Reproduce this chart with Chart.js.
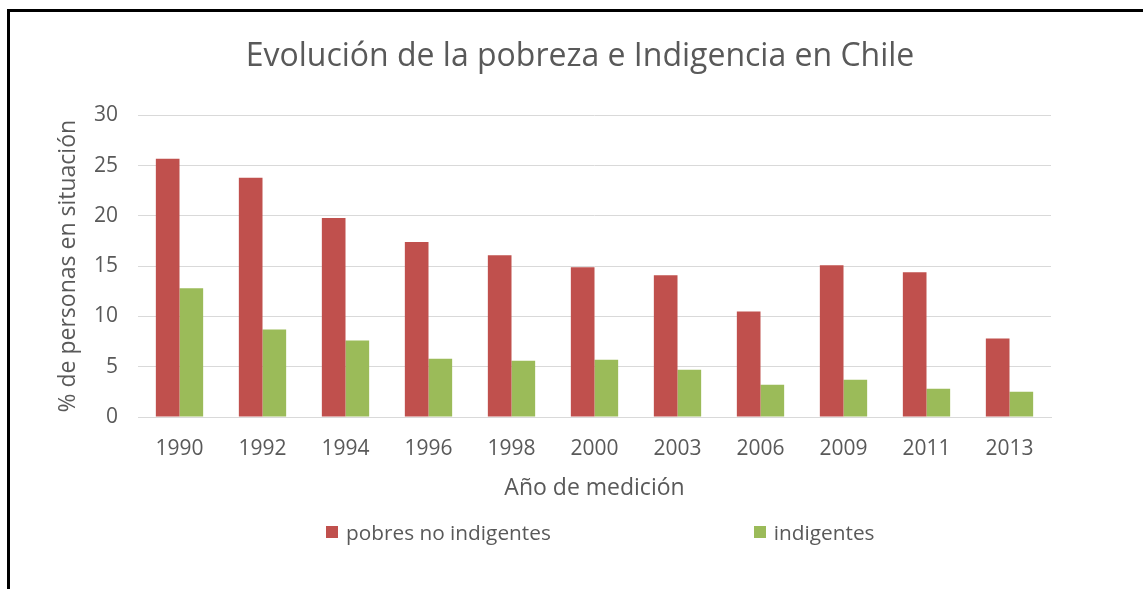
<!DOCTYPE html>
<html lang="es">
<head>
<meta charset="utf-8">
<title>Evolución de la pobreza e Indigencia en Chile</title>
<script src="https://cdn.jsdelivr.net/npm/chart.js@4.4.1/dist/chart.umd.min.js"></script>
<style>
    html, body { margin: 0; padding: 0; background: #fff; }
    #wrap { position: relative; width: 1143px; height: 589px; overflow: hidden; }
    #marco {
        position: absolute; left: 7px; top: 9px; right: -10px; bottom: -10px;
        border-top: 3px solid #000; border-left: 3px solid #000; pointer-events: none;
    }
    #leyenda {
        position: absolute; left: 326px; top: 520px;
        display: flex; align-items: center; gap: 203px;
        font-family: 'Open Sans', sans-serif; font-size: 20.8px; line-height: 24px; color: #595959;
    }
    .item { display: flex; align-items: center; gap: 8px; white-space: nowrap; }
    .caja { width: 12px; height: 12px; display: inline-block; }
</style>
</head>
<body>
<div id="wrap">
    <canvas id="grafico" width="1143" height="589"></canvas>
    <div id="leyenda"></div>
    <div id="marco"></div>
</div>
<script>
// Datos (% de personas)
const anios = ['1990', '1992', '1994', '1996', '1998', '2000', '2003', '2006', '2009', '2011', '2013'];
const pobresNoIndigentes = [25.7, 23.8, 19.8, 17.4, 16.1, 14.9, 14.1, 10.5, 15.1, 14.4, 7.8];
const indigentes = [12.8, 8.7, 7.6, 5.8, 5.6, 5.7, 4.7, 3.2, 3.7, 2.8, 2.5];
const nombresSeries = ['pobres no indigentes', 'indigentes'];
const coloresSeries = ['#C0504D', '#9BBB59'];

const textoGris = '#595959';
const fuente = "'Open Sans', sans-serif";

const chart = new Chart(document.getElementById('grafico'), {
    type: 'bar',
    data: {
        labels: anios,
        datasets: [
            { label: nombresSeries[0], data: pobresNoIndigentes, backgroundColor: coloresSeries[0] },
            { label: nombresSeries[1], data: indigentes, backgroundColor: coloresSeries[1] }
        ]
    },
    options: {
        responsive: false,
        animation: false,
        layout: { padding: { left: 54, right: 37, top: 0, bottom: 87 } },
        datasets: {
            bar: { barPercentage: 1, categoryPercentage: 0.57 }
        },
        plugins: {
            legend: { display: false },
            tooltip: { enabled: false },
            title: {
                display: true,
                text: 'Evolución de la pobreza e Indigencia en Chile',
                color: textoGris,
                font: { family: fuente, size: 32, weight: 'normal' },
                padding: { top: 38, bottom: 39 }
            }
        },
        scales: {
            x: {
                grid: { display: false, drawTicks: false },
                border: { display: true, color: '#D9D9D9' },
                ticks: { color: textoGris, font: { family: fuente, size: 21 }, padding: 19 },
                title: {
                    display: true,
                    text: 'Año de medición',
                    color: textoGris,
                    font: { family: fuente, size: 23 },
                    padding: { top: 0, bottom: 0 }
                },
                // alto fijo del eje para dejar el área de trazado donde está en el original
                afterFit: (scale) => { scale.height = 85; }
            },
            y: {
                min: 0,
                max: 30,
                grid: { color: '#D9D9D9', lineWidth: 1, drawTicks: false },
                border: { display: false },
                ticks: { stepSize: 5, color: textoGris, font: { family: fuente, size: 21 }, padding: 20 },
                title: {
                    display: true,
                    text: '% de personas en situación',
                    color: textoGris,
                    font: { family: fuente, size: 23 },
                    padding: { top: 1, bottom: 0 }
                },
                afterFit: (scale) => { scale.width = 84; }
            },
            // eje vacío a la derecha: solo reserva el margen derecho sin descentrar el título
            margenDer: {
                type: 'linear',
                position: 'right',
                display: true,
                grid: { display: false },
                border: { display: false },
                ticks: { display: false },
                afterFit: (scale) => { scale.width = 55; }
            }
        }
    }
});

// Leyenda en HTML, construida desde los datasets del gráfico
const leyenda = document.getElementById('leyenda');
chart.data.datasets.forEach(ds => {
    const item = document.createElement('span');
    item.className = 'item';
    const caja = document.createElement('span');
    caja.className = 'caja';
    caja.style.background = ds.backgroundColor;
    const texto = document.createElement('span');
    texto.textContent = ds.label;
    item.appendChild(caja);
    item.appendChild(texto);
    leyenda.appendChild(item);
});
</script>
</body>
</html>
